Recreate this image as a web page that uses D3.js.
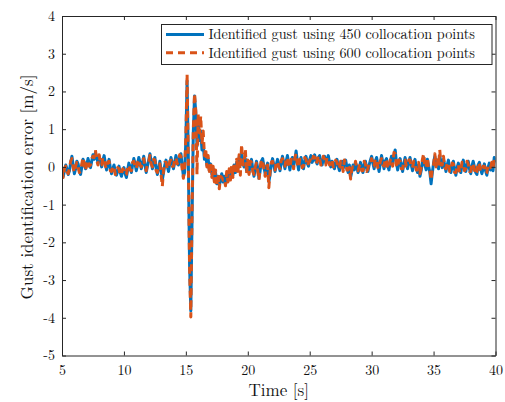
<!DOCTYPE html>
<html>
<head>
<meta charset="utf-8">
<script src="https://cdn.jsdelivr.net/npm/d3@7"></script>
<style>
  html, body { margin: 0; padding: 0; background: #fff; }
  svg { display: block; }
</style>
</head>
<body>
<svg id="chart" width="505" height="402"></svg>
<script>
// Sampling of the error signals (s)
const tStart = 5;
const tStep = 0.1;

// Gust identification error, 450 collocation points (m/s), one row per second
const err450 = [
  -0.15, -0.25, -0.10, 0.05, -0.05, -0.20, -0.10, 0.10, 0.28, 0.05,
  -0.18, -0.05, 0.15, 0.08, -0.10, -0.20, 0.00, 0.20, 0.12, -0.05,
  0.05, 0.22, 0.10, -0.02, 0.15, 0.32, 0.20, 0.38, 0.25, 0.12,
  0.28, 0.15, 0.00, 0.18, 0.30, 0.10, -0.08, 0.05, 0.20, -0.02,
  -0.18, -0.05, 0.05, -0.12, -0.22, -0.10, 0.02, -0.15, -0.25, -0.10,
  -0.02, -0.18, -0.28, -0.08, 0.10, 0.00, -0.15, 0.05, 0.22, 0.08,
  -0.10, 0.05, 0.25, 0.12, -0.05, 0.10, 0.28, 0.05, -0.15, 0.02,
  0.18, 0.35, 0.15, -0.05, 0.12, 0.25, -0.02, -0.20, -0.05, 0.15,
  -0.08, -0.35, -0.15, 0.05, 0.18, 0.02, -0.12, 0.08, 0.25, 0.10,
  -0.05, 0.12, 0.30, 0.15, 0.05, 0.25, 0.35, 0.05, -0.25, -0.15,
  0.70, 2.28, 0.20, -2.60, -3.82, -1.40, 0.90, 1.88, 1.45, 0.55,
  1.20, 0.70, 0.95, 0.45, 0.60, 0.20, 0.35, 0.05, 0.22, -0.10,
  0.08, -0.20, -0.05, -0.35, -0.15, -0.45, -0.25, -0.50, -0.32, -0.18,
  -0.40, -0.25, -0.45, -0.20, -0.35, -0.12, -0.30, -0.05, -0.22, 0.05,
  -0.15, 0.12, -0.05, 0.25, 0.05, 0.35, 0.15, 0.00, 0.22, -0.10,
  0.12, -0.15, 0.08, 0.20, -0.05, -0.25, -0.08, 0.15, -0.02, -0.30,
  -0.10, 0.15, 0.22, 0.02, -0.18, -0.05, 0.10, -0.40, -0.20, 0.08,
  0.22, 0.05, -0.12, 0.05, 0.20, 0.08, -0.10, 0.10, 0.28, 0.12,
  -0.05, 0.15, 0.30, 0.10, -0.08, 0.12, 0.25, 0.02, 0.18, 0.42,
  0.15, -0.08, 0.12, 0.25, 0.05, -0.05, 0.18, 0.28, 0.10, 0.02,
  0.20, 0.30, 0.12, 0.22, 0.32, 0.15, 0.08, 0.25, 0.30, 0.12,
  0.05, 0.22, 0.28, 0.10, 0.18, 0.30, 0.12, 0.00, 0.15, 0.08,
  -0.05, 0.12, 0.20, 0.02, -0.10, 0.08, 0.15, -0.05, 0.10, 0.18,
  0.00, -0.15, 0.05, -0.28, -0.12, 0.05, -0.08, 0.10, 0.02, -0.15,
  -0.05, 0.12, -0.02, -0.15, 0.08, 0.15, -0.05, -0.12, 0.05, 0.18,
  0.28, 0.10, -0.05, 0.15, 0.25, 0.05, -0.12, 0.08, 0.30, 0.12,
  -0.05, 0.15, 0.22, 0.02, -0.08, 0.12, 0.28, 0.10, 0.30, 0.45,
  0.12, -0.08, 0.10, 0.22, 0.02, -0.12, 0.08, 0.25, 0.10, -0.05,
  0.12, 0.25, 0.05, -0.10, 0.08, 0.20, 0.00, -0.15, 0.05, -0.25,
  -0.10, 0.12, 0.25, 0.05, -0.08, 0.20, 0.02, -0.15, -0.45, -0.15,
  0.10, 0.28, 0.05, 0.18, -0.05, 0.30, 0.12, -0.02, 0.20, 0.05,
  -0.12, 0.05, 0.18, -0.05, -0.15, 0.02, 0.15, -0.08, -0.22, -0.02,
  0.10, -0.08, -0.15, 0.05, 0.18, -0.02, -0.12, 0.08, 0.15, -0.05,
  -0.18, 0.02, 0.15, 0.00, -0.15, -0.20, 0.05, 0.12, -0.05, -0.18,
  -0.05, 0.08, -0.10, -0.22, -0.02, 0.10, -0.08, 0.05, -0.10, 0.25,
  0.12
];

// Gust identification error, 600 collocation points (m/s), one row per second
const err600 = [
  -0.10, -0.28, -0.05, 0.02, -0.12, -0.18, -0.02, 0.15, 0.22, -0.02,
  -0.15, 0.02, 0.12, 0.00, -0.15, -0.12, 0.08, 0.25, 0.05, -0.10,
  0.10, 0.18, 0.02, 0.05, 0.22, 0.28, 0.25, 0.45, 0.18, 0.05,
  0.32, 0.10, 0.05, 0.25, 0.22, 0.02, -0.05, 0.12, 0.15, -0.10,
  -0.12, 0.02, 0.00, -0.20, -0.15, -0.02, -0.05, -0.22, -0.18, -0.05,
  -0.10, -0.22, -0.20, 0.00, 0.05, -0.08, -0.10, 0.12, 0.15, 0.00,
  -0.05, 0.12, 0.20, 0.05, 0.00, 0.18, 0.22, -0.02, -0.10, 0.10,
  0.12, 0.30, 0.08, 0.00, 0.20, 0.18, -0.10, -0.15, 0.02, 0.08,
  -0.20, -0.52, -0.08, 0.12, 0.12, -0.05, -0.05, 0.15, 0.18, 0.02,
  0.02, 0.20, 0.25, 0.08, 0.12, 0.32, 0.28, -0.05, -0.30, -0.05,
  0.80, 2.46, 0.10, -2.70, -3.98, -1.20, 1.00, 1.95, 1.50, -0.20,
  1.40, 0.90, 1.35, 0.60, 0.95, 0.30, 0.50, 0.00, 0.30, -0.20,
  0.12, -0.28, 0.02, -0.40, -0.08, -0.52, -0.18, -0.58, -0.25, -0.28,
  -0.35, -0.32, -0.50, -0.12, -0.40, -0.05, -0.35, 0.02, -0.28, 0.12,
  -0.20, 0.20, -0.12, 0.32, -0.22, 0.60, 0.05, 0.08, 0.48, -0.18,
  0.18, -0.20, 0.15, 0.12, -0.12, -0.20, 0.00, 0.10, -0.10, -0.35,
  -0.02, 0.20, 0.15, -0.05, -0.25, 0.02, 0.05, -0.55, -0.12, 0.12,
  0.15, -0.02, -0.08, 0.12, 0.15, 0.00, -0.05, 0.18, 0.22, 0.05,
  0.02, 0.22, 0.25, 0.02, -0.02, 0.20, 0.18, -0.05, 0.25, 0.35,
  0.08, -0.02, 0.20, 0.18, -0.02, 0.02, 0.25, 0.20, 0.02, 0.10,
  0.15, 0.25, 0.18, 0.28, 0.25, 0.08, 0.15, 0.30, 0.22, 0.05,
  0.12, 0.28, 0.20, 0.05, 0.25, 0.22, 0.05, 0.08, 0.20, 0.00,
  0.02, 0.18, 0.12, -0.05, -0.02, 0.15, 0.08, -0.12, 0.18, 0.10,
  -0.08, -0.08, -0.02, -0.32, -0.05, 0.00, -0.02, 0.15, -0.05, -0.10,
  0.02, 0.08, -0.10, -0.10, 0.15, 0.08, -0.12, -0.05, 0.12, 0.10,
  0.22, 0.02, 0.02, 0.22, 0.18, -0.02, -0.05, 0.15, 0.22, 0.05,
  0.02, 0.22, 0.15, -0.05, 0.00, 0.18, 0.22, 0.02, 0.38, 0.35,
  0.05, -0.02, 0.18, 0.15, -0.05, -0.05, 0.15, 0.18, 0.02, 0.02,
  0.18, 0.18, -0.02, -0.02, 0.15, 0.12, -0.08, -0.08, 0.12, -0.18,
  -0.02, 0.20, 0.35, -0.02, 0.00, 0.25, -0.05, -0.05, -0.35, -0.05,
  0.05, 0.35, 0.00, 0.25, 0.02, 0.45, 0.05, 0.05, 0.28, -0.02,
  -0.05, 0.12, 0.10, -0.12, -0.08, 0.10, 0.08, -0.15, -0.15, 0.05,
  0.05, -0.15, -0.08, 0.12, 0.12, -0.10, -0.05, 0.15, 0.08, -0.12,
  -0.12, 0.10, 0.08, -0.08, -0.20, -0.12, 0.12, 0.05, -0.12, -0.12,
  0.02, 0.02, -0.18, -0.15, 0.05, 0.02, -0.02, 0.12, -0.02, 0.20,
  0.18
];

const xTicks = [5, 10, 15, 20, 25, 30, 35, 40];
const yTicks = [-5, -4, -3, -2, -1, 0, 1, 2, 3, 4];
const seriesNames = [
  "Identified gust using 450 collocation points",
  "Identified gust using 600 collocation points"
];
const seriesColors = ["#0072BD", "#D95319"];

const serifFont = '"Latin Modern Roman", "Liberation Serif", serif';
const axisColor = "#262626";
const textColor = "#111";

const svg = d3.select("#chart");
const plot = { left: 62, right: 495.5, top: 16, bottom: 355.5 };

const x = d3.scaleLinear().domain([5, 40]).range([plot.left, plot.right]);
const y = d3.scaleLinear().domain([-5, 4]).range([plot.bottom, plot.top]);

const timeOf = i => tStart + i * tStep;

svg.append("defs").append("clipPath").attr("id", "plotClip")
  .append("rect")
  .attr("x", plot.left).attr("y", plot.top)
  .attr("width", plot.right - plot.left).attr("height", plot.bottom - plot.top);

const line = d3.line()
  .x((d, i) => x(timeOf(i)))
  .y(d => y(d));

const lineWidth = 3;
const lines = svg.append("g").attr("clip-path", "url(#plotClip)");
lines.append("path")
  .datum(err450)
  .attr("d", line)
  .attr("fill", "none")
  .attr("stroke", seriesColors[0])
  .attr("stroke-width", lineWidth)
  .attr("stroke-linejoin", "round");
lines.append("path")
  .datum(err600)
  .attr("d", line)
  .attr("fill", "none")
  .attr("stroke", seriesColors[1])
  .attr("stroke-width", lineWidth)
  .attr("stroke-dasharray", "7,5")
  .attr("stroke-linejoin", "round");

// Axes with inward ticks on all four sides (boxed frame)
const tickLen = 4;

const gx = svg.append("g").attr("transform", `translate(0,${plot.bottom})`)
  .call(d3.axisBottom(x).tickValues(xTicks).tickSizeInner(-tickLen).tickSizeOuter(0).tickPadding(10).tickFormat(d3.format("d")));
const gxTop = svg.append("g").attr("transform", `translate(0,${plot.top})`)
  .call(d3.axisTop(x).tickValues(xTicks).tickSizeInner(-tickLen).tickSizeOuter(0).tickFormat(""));
const gy = svg.append("g").attr("transform", `translate(${plot.left},0)`)
  .call(d3.axisLeft(y).tickValues(yTicks).tickSizeInner(-tickLen).tickSizeOuter(0).tickPadding(7).tickFormat(d => d < 0 ? "-" + Math.abs(d) : String(d)));
const gyRight = svg.append("g").attr("transform", `translate(${plot.right},0)`)
  .call(d3.axisRight(y).tickValues(yTicks).tickSizeInner(-tickLen).tickSizeOuter(0).tickFormat(""));

[gx, gxTop, gy, gyRight].forEach(g => {
  g.attr("font-family", serifFont).attr("font-size", 14);
  g.select(".domain").attr("stroke", axisColor).attr("stroke-width", 1);
  g.selectAll(".tick line").attr("stroke", axisColor).attr("stroke-width", 1);
  g.selectAll(".tick text").attr("fill", textColor);
});

// Axis titles
svg.append("text")
  .attr("x", (plot.left + plot.right) / 2)
  .attr("y", 395.5)
  .attr("text-anchor", "middle")
  .attr("font-family", serifFont)
  .attr("font-size", 17)
  .attr("fill", textColor)
  .text("Time [s]");

svg.append("text")
  .attr("transform", `translate(33,187) rotate(-90)`)
  .attr("text-anchor", "middle")
  .attr("font-family", serifFont)
  .attr("font-size", 17)
  .attr("fill", textColor)
  .text("Gust identification error [m/s]");

// Legend
const legend = svg.append("g");
legend.append("rect")
  .attr("x", 161.5).attr("y", 24.5)
  .attr("width", 330.5).attr("height", 40)
  .attr("fill", "#fff")
  .attr("stroke", axisColor)
  .attr("stroke-width", 1);

seriesNames.forEach((name, k) => {
  const ly = 34.5 + k * 18.3;
  legend.append("line")
    .attr("x1", 166).attr("x2", 204)
    .attr("y1", ly).attr("y2", ly)
    .attr("stroke", seriesColors[k])
    .attr("stroke-width", lineWidth)
    .attr("stroke-dasharray", k === 1 ? "7,5" : null);
  legend.append("text")
    .attr("x", 208.5).attr("y", ly + 4.7)
    .attr("font-family", serifFont)
    .attr("font-size", 14.2)
    .attr("fill", textColor)
    .text(name);
});
</script>
</body>
</html>
